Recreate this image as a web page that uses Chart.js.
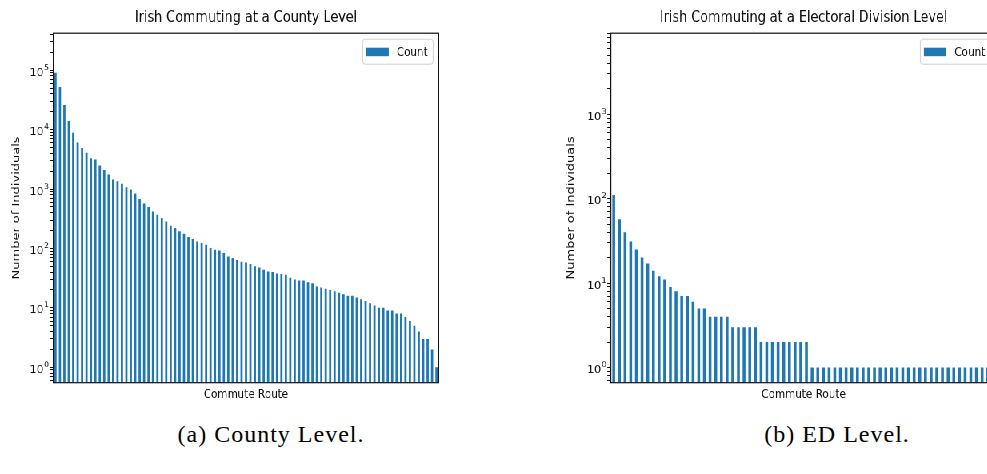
<!DOCTYPE html>
<html>
<head>
<meta charset="utf-8">
<script src="https://cdn.jsdelivr.net/npm/chart.js@4.4.0/dist/chart.umd.min.js"></script>
<style>
  html, body { margin: 0; padding: 0; background: #fff; overflow: hidden; width: 987px; height: 474px; }
  #wrap { position: absolute; left: 0; top: 0; width: 1300px; height: 415px; transform: scaleX(0.8); transform-origin: 0 0; }
  #wrap canvas { position: absolute; top: 0; }
  .cap { position: absolute; top: 419px; width: 300px; text-align: center; font-family: "Liberation Serif", serif; font-size: 24px; letter-spacing: 1px; line-height: 30px; color: #000; }
</style>
</head>
<body>
<div id="wrap">
  <canvas id="county" width="600" height="415" style="left:0px"></canvas>
  <canvas id="ed" width="600" height="415" style="left:697px"></canvas>
</div>
<div class="cap" style="left:121px">(a) County Level.</div>
<div class="cap" style="left:687px">(b) ED Level.</div>
<script>
// counts per commute route, sorted
var countyCounts = [91000, 52000, 26000, 14000, 8900, 6100, 4900, 4100, 3300, 3150,
  2500, 2100, 1750, 1450, 1350, 1230, 1070, 980, 840, 680, 570, 500,
  420, 370, 325, 285, 240, 220, 194, 177, 156, 144, 131, 123, 115, 102, 95,
  92, 84, 73, 69, 64, 60, 58, 55, 50, 48, 44, 41, 40, 38, 37, 36, 32, 30, 29, 29,
  27, 26, 23, 22, 21, 20, 19, 18, 17, 16, 16, 15, 14, 13, 12, 11, 10, 10, 9, 9,
  8, 8, 7, 6, 5, 4, 3, 3, 2, 1];
var edCounts = [110, 57, 40, 31, 25, 20, 17, 14, 12, 11, 9, 8, 7, 7, 6, 5, 5, 4, 4, 4,
  4, 3, 3, 3, 3, 3, 2, 2, 2, 2, 2, 2, 2, 2, 2,
  1, 1, 1, 1, 1, 1, 1, 1, 1, 1, 1, 1, 1, 1, 1, 1, 1, 1, 1, 1, 1, 1, 1, 1, 1, 1, 1, 1, 1, 1, 1, 1, 1];
var countyRoutes = countyCounts.map(function(c, i) { return 'Route ' + (i + 1); });
var edRoutes = edCounts.map(function(c, i) { return 'Route ' + (i + 1); });

var seriesName = 'Count';
var xTitle = 'Commute Route';
var yTitle = 'Number of Individuals';

Chart.defaults.font.family = 'DejaVu Sans';
Chart.defaults.color = '#111';

function isDecade(v) {
  var e = Math.round(Math.log10(v));
  return Math.abs(Math.log10(v) - e) < 1e-6;
}

var framePlugin = {
  id: 'frame',
  afterDraw: function(chart) {
    var a = chart.chartArea, ctx = chart.ctx;
    ctx.save();
    ctx.strokeStyle = '#111';
    ctx.lineWidth = 1.2;
    ctx.strokeRect(a.left, a.top, a.right - a.left, a.bottom - a.top);

    // 10^n tick labels, base and raised exponent (stretched back against the squeeze)
    var ys = chart.scales.y;
    ctx.fillStyle = '#111';
    ctx.textAlign = 'right';
    ctx.textBaseline = 'alphabetic';
    ys.ticks.forEach(function(t) {
      if (!isDecade(t.value)) return;
      var y = ys.getPixelForValue(t.value);
      var e = String(Math.round(Math.log10(t.value)));
      ctx.save();
      ctx.translate(ys.right - 5.5, y);
      ctx.scale(1.25, 1);
      ctx.font = '7.8px "DejaVu Sans"';
      var ew = ctx.measureText(e).width;
      ctx.fillText(e, 0, -0.5);
      ctx.font = '11px "DejaVu Sans"';
      ctx.fillText('10', -ew - 0.3, 5.5);
      ctx.restore();
    });

    // matplotlib style legend in the upper right corner
    var ds = chart.data.datasets[0];
    var bw = 88, bh = 25;
    var bx = a.right - 7 - bw, by = a.top + 6;
    ctx.textAlign = 'left';
    ctx.beginPath();
    ctx.roundRect(bx, by, bw, bh, 3);
    ctx.fillStyle = 'rgba(255,255,255,0.85)';
    ctx.fill();
    ctx.strokeStyle = '#d0d0d0';
    ctx.lineWidth = 1;
    ctx.stroke();
    ctx.fillStyle = ds.backgroundColor;
    ctx.fillRect(bx + 4.5, by + 8.5, 28, 8.5);
    ctx.fillStyle = '#111';
    ctx.font = '13px "DejaVu Sans"';
    ctx.textBaseline = 'middle';
    ctx.fillText(ds.label, bx + 42.5, by + bh / 2 + 0.5);
    ctx.restore();
  }
};

function makeChart(id, routes, counts, title, yMin, yMax, yTitlePad) {
  return new Chart(document.getElementById(id), {
    type: 'bar',
    data: {
      labels: routes,
      datasets: [{
        label: seriesName,
        data: counts,
        backgroundColor: '#1f77b4',
        barPercentage: 0.5,
        categoryPercentage: 1.0
      }]
    },
    options: {
      responsive: false,
      animation: false,
      layout: { padding: { left: 0, right: 51.6, top: 0, bottom: 5 } },
      plugins: {
        legend: { display: false },
        tooltip: { enabled: false },
        title: {
          display: true,
          text: title,
          fullSize: false,
          font: { size: 16, weight: 'normal' },
          padding: { top: 8, bottom: 6 }
        }
      },
      scales: {
        x: {
          grid: { display: false },
          border: { display: false },
          ticks: { display: false },
          title: { display: true, text: xTitle, font: { size: 13 }, padding: { top: 0, bottom: 7.7 } },
          afterFit: function(s) { s.height = 27.3; }
        },
        y: {
          type: 'logarithmic',
          min: yMin,
          max: yMax,
          border: { display: false },
          grid: { drawOnChartArea: false, drawTicks: true, tickLength: 4.5, color: '#111' },
          ticks: {
            autoSkip: false,
            padding: 3,
            callback: function() { return ''; }
          },
          afterBuildTicks: function(scale) {
            scale.ticks = scale.ticks.filter(function(t) {
              var m = t.value / Math.pow(10, Math.floor(Math.log10(t.value) + 1e-9));
              return Math.abs(m - Math.round(m)) < 1e-6;
            });
          },
          title: { display: true, text: yTitle, font: { size: 13 }, padding: { top: yTitlePad, bottom: 0 } },
          afterFit: function(s) { s.width = 66.6; }
        }
      }
    },
    plugins: [framePlugin]
  });
}

makeChart('county', countyRoutes, countyCounts, 'Irish Commuting at a County Level', 0.55, 420000, 13);
makeChart('ed', edRoutes, edCounts, 'Irish Commuting at a Electoral Division Level', 0.66, 9100, 9.2);
</script>
</body>
</html>
